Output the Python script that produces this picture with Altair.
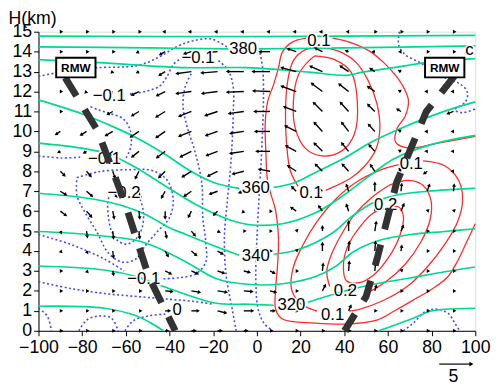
import math
import altair as alt
import pandas as pd

# ---------------- axes ----------------
X_TICKS = [-100, -80, -60, -40, -20, 0, 20, 40, 60, 80, 100]
H_TICKS = [0, 1, 2, 3, 4, 5, 6, 7, 8, 9, 10, 11, 12, 13, 14, 15]

# ---------------- wind vectors (u, w) on the grid ----------------
GRID_X = [-90, -78, -66, -54, -42, -30, -18, -6, 6, 18, 30, 42, 54, 66, 78, 90]
GRID_H = [15, 14, 13, 12, 11, 10, 9, 8, 7, 6, 5, 4, 3, 2, 1, 0]
U_ROWS = [
    [0.1, 0.1, 0.1, 0.1, -0.1, -0.2, -0.2, -0.2, -0.2, -0.2, -0.2, -0.1, 0.1, 0.1, 0.1, 0.1],
    [0.1, 0.1, 0.1, -0.2, -0.7, -1.0, -1.2, -1.3, -1.5, -1.2, -1.0, -0.3, -0.2, -0.1, 0.1, 0.1],
    [0.1, 0.1, -0.1, -0.2, -0.8, -2.2, -2.4, -2.5, -2.6, -2.2, -1.8, -1.2, -0.6, -0.2, -0.1, 0.1],
    [0.1, -0.1, -0.3, -1.0, -1.2, -2.2, -2.3, -2.5, -2.5, -2.2, -1.6, -1.4, -1.0, -0.2, -0.1, -0.1],
    [0.1, -0.2, -0.7, -1.0, -1.3, -1.8, -1.8, -2.2, -2.3, -1.8, -1.3, -1.2, -1.0, -0.5, -0.2, -0.8],
    [-0.6, -0.8, -1.0, -1.2, -1.3, -1.8, -1.7, -2.0, -2.2, -1.6, -1.2, -1.0, -0.9, -0.2, -0.1, -0.1],
    [-0.2, -0.3, -0.6, -1.0, -1.2, -1.6, -1.6, -2.0, -2.0, -1.5, -1.2, -1.0, -0.8, -0.2, -0.1, -0.1],
    [0.6, 0.6, 0.3, -0.5, -0.9, -1.3, -1.4, -1.6, -1.6, -1.2, -1.0, -0.9, -0.6, -0.2, -0.4, -0.1],
    [0.8, 0.8, 0.6, 0.2, -0.5, -1.0, -1.1, -0.6, -0.2, -0.6, -0.7, -0.3, 0.0, 0.1, 0.3, 0.1],
    [0.8, 0.7, 0.2, 0.1, 0.0, -0.4, -0.5, -0.1, 0.1, -0.7, -0.5, -0.3, 0.0, 0.4, 0.1, 0.1],
    [0.1, 0.1, 0.1, 0.1, 0.2, 0.5, 0.2, 0.1, 0.1, 0.1, 0.0, 0.0, 0.2, 0.3, 0.1, 0.1],
    [0.1, 0.1, 0.1, 0.1, 0.4, 0.7, 0.7, 0.2, 0.1, 0.1, 0.0, 0.1, 0.1, 0.1, 0.1, 0.1],
    [0.1, 0.1, 0.1, 0.3, 0.8, 0.9, 0.9, 0.8, 0.6, 0.1, 0.1, 0.1, 0.1, 0.1, 0.1, 0.1],
    [0.1, 0.1, 0.1, 0.2, 1.0, 1.2, 1.3, 1.2, 0.8, 0.1, 0.4, 0.3, 0.2, 0.1, 0.1, 0.1],
    [0.1, 0.1, 0.1, 0.2, 0.6, 1.0, 1.2, 1.3, 0.6, 0.1, 0.1, 0.3, 0.1, 0.1, 0.1, 0.1],
    [0.1, 0.1, 0.1, 0.2, 0.3, 0.5, 0.5, 0.4, 0.2, 0.1, 0.1, 0.1, 0.1, 0.1, 0.1, 0.1],
]
W_ROWS = [
    [0, 0, 0, 0, 0, 0, 0, 0, 0, 0, 0, 0, 0, 0, 0, 0],
    [0, 0, 0, -0.1, -0.4, -0.3, -0.1, 0, 0, 0.4, 0.5, 0.1, 0, 0, 0, 0],
    [0, 0, -0.1, -0.1, -0.5, -0.3, -0.2, 0, 0, 0.6, 0.8, 0.8, 0.4, 0.1, 0, 0],
    [0, -0.1, -0.2, -0.5, -0.6, -0.3, -0.3, -0.1, 0.1, 0.8, 1.2, 1.1, 0.7, 0.1, 0, 0],
    [0, -0.1, -0.4, -0.6, -0.8, -0.7, -0.6, -0.3, 0, 0.7, 1.3, 1.3, 1.0, 0.3, 0, -0.3],
    [-0.4, -0.5, -0.6, -0.8, -0.9, -0.7, -0.6, -0.3, 0, 0.8, 1.3, 1.3, 1.0, 0.1, 0, 0],
    [-0.1, -0.2, -0.5, -0.8, -0.9, -0.8, -0.6, -0.3, 0, 0.8, 1.2, 1.2, 0.9, 0.1, 0, 0],
    [-0.6, -0.7, -0.9, -1.0, -0.9, -0.8, -0.7, -0.4, 0.3, 0.8, 1.0, 1.0, 0.9, 0.3, -0.3, 0],
    [-0.5, -0.7, -0.8, -1.0, -0.9, -0.7, -0.4, -0.2, 0.1, 0.6, 0.7, 0.9, 1.2, 1.0, 0.9, 0.9],
    [-0.6, -0.8, -1.0, -1.0, -1.0, -0.8, -0.5, -0.1, 0, 0.5, 0.7, 0.9, 1.2, 1.0, 0.1, 0.1],
    [-0.2, -0.8, -1.0, -1.0, -0.9, -0.6, -0.1, 0, 0, 0.1, 0.6, 1.4, 1.3, 0.7, 0, 0],
    [-0.1, -0.2, -0.9, -0.9, -0.7, -0.6, -0.4, -0.1, 0, 0.1, 1.1, 1.3, 1.3, 0.7, 0, 0],
    [0, -0.1, -0.5, -0.4, -0.4, -0.4, -0.3, -0.2, -0.3, 0, 1.0, 1.3, 1.0, 0.1, 0, 0],
    [0, 0, 0, 0, -0.1, -0.2, -0.2, -0.1, -0.2, 0, 0.8, 0.7, 0.7, 0, 0, 0],
    [0, 0, 0, 0, 0, 0, -0.3, 0, 0, 0, 0, 0.7, 0, 0, 0, 0],
    [0, 0, 0, 0, 0, 0, 0, 0, 0, 0, 0, 0, 0, 0, 0, 0],
]
REF_VECTOR = 5
REF_POS = (83.5, -1.67)
REF_LABEL_POS = (90.0, -2.3)

# ---------------- potential temperature contours (green) ----------------
THETA_390 = [[(-100, 14.78), (0, 14.76), (100, 14.82)]]
THETA_380 = [[(-100, 14.24), (-50, 14.19), (-13.1, 14.14)],
             [(0.9, 14.14), (40.1, 14.19), (100, 14.29)]]
THETA_370 = [[(-100, 13.60), (-72.5, 13.45), (-32.4, 13.20), (-5.0, 13.20), (9.9, 13.10), (25.2, 12.96),
              (41.4, 12.81), (47.8, 12.96), (62.6, 13.20), (77.5, 13.45), (100, 13.65)]]
THETA_360 = [[(-100, 11.58), (-80.2, 10.89), (-68.0, 10.34), (-54.5, 9.65), (-42.3, 8.87), (-30.6, 8.03),
              (-19.8, 7.44), (-8.1, 7.14)],
             [(7.7, 7.19), (17.6, 7.44), (26.6, 7.93), (40.1, 8.67), (52.3, 9.46), (65.8, 10.15),
              (85.1, 10.98), (100, 11.48)]]
THETA_350 = [[(-100, 9.41), (-80.2, 9.16), (-68.0, 8.87), (-54.5, 8.13), (-42.3, 7.29), (-27.5, 6.31),
              (-12.6, 5.57), (-3.2, 5.32), (11.7, 5.37), (26.6, 5.91), (37.8, 6.65), (52.3, 7.83),
              (62.6, 8.62), (80.6, 9.36), (100, 9.80)]]
THETA_340 = [[(-100, 6.90), (-77.5, 6.65), (-62.6, 6.31), (-50.5, 5.81), (-40.1, 5.17), (-32.4, 4.83),
              (-21.2, 4.33), (-8.1, 3.79)],
             [(7.7, 3.84), (19.4, 4.09), (34.2, 4.88), (43.2, 5.71), (52.7, 6.40), (63.5, 6.80),
              (78.4, 7.00), (100, 7.14)]]
THETA_330 = [[(-100, 4.98), (-77.5, 4.83), (-55.0, 4.53), (-46.0, 4.19), (-32.4, 3.45), (-18.5, 2.61),
              (-3.2, 2.32), (11.7, 2.36), (26.6, 2.71), (35.6, 3.20), (44.6, 3.99), (55.9, 4.53),
              (70.7, 4.83), (86.0, 4.98), (100, 5.12)]]
THETA_320 = [[(-100, 3.25), (-69.8, 3.05), (-55.0, 2.71), (-42.8, 2.22), (-32.4, 1.82), (-18.5, 1.38),
              (-3.2, 1.33), (7.7, 1.28)],
             [(23.4, 1.43), (37.8, 1.92), (50.5, 2.27), (70.7, 2.66), (86.0, 2.96), (100, 3.20)]]
THETA_310 = [[(-100, 1.23), (-69.8, 1.13), (-55.0, 0.74), (-47.8, 0.34), (-42.8, 0.0)],
             [(55.9, 0.0), (70.7, 0.59), (79.7, 0.99), (86.0, 1.08), (100, 1.13)]]

# ---------------- positive contours (red) ----------------
POS_OUTER = [[(100, 9.75), (82.9, 9.41), (69.4, 9.16), (63.5, 9.46), (64.0, 10.10), (68.0, 10.79),
              (69.4, 11.53), (67.6, 12.12), (63.5, 12.81), (58.1, 13.45), (51.4, 14.04), (42.3, 14.48),
              (34.7, 14.68)],
             [(22.5, 14.68), (16.2, 14.48), (11.7, 13.99), (9.9, 13.20), (7.7, 12.36), (5.0, 11.53),
              (3.8, 10.39), (4.1, 9.01), (5.0, 7.44), (8.6, 6.01), (9.9, 4.58), (9.5, 3.35), (8.6, 2.12),
              (8.6, 1.08), (11.7, 0.59), (26.6, 0.39), (40.1, 0.34), (55.0, 0.54), (63.5, 1.03),
              (73.0, 1.63), (80.6, 2.12), (87.4, 2.71), (91.9, 3.50), (95.5, 4.33), (100, 5.37)]]
POS_UPPER_2 = [[(18.9, 7.24), (15.3, 8.03), (13.5, 9.51), (13.1, 10.98), (14.0, 12.46), (16.7, 13.55),
                (22.1, 14.09), (30.2, 14.19), (39.2, 13.94), (45.5, 13.45), (50.9, 12.56), (55.0, 11.38),
                (56.3, 10.15), (54.5, 9.11), (49.1, 8.23), (43.2, 7.68), (35.6, 7.24), (31.5, 7.04)]]
POS_UPPER_3 = [[(26.6, 13.79), (35.6, 13.60), (43.2, 12.96), (46.0, 11.48), (44.6, 9.85), (38.7, 9.01),
                (29.7, 8.77), (22.1, 9.16), (17.6, 10.15), (16.7, 11.48), (18.9, 12.81), (23.0, 13.45),
                (26.6, 13.79)]]
POS_LOWER_1 = [[(76.1, 8.52), (86.0, 8.28), (92.4, 7.54), (94.2, 6.55), (91.9, 5.47), (86.0, 4.33),
                (78.4, 3.25), (69.4, 2.27), (58.1, 1.53), (46.9, 1.08), (42.3, 0.99)],
               [(27.5, 0.99), (19.8, 1.38), (15.8, 2.12), (16.7, 3.20), (21.2, 4.33), (27.5, 5.47),
                (35.6, 6.55), (44.6, 7.39), (55.9, 8.03), (64.9, 8.33)]]
POS_LOWER_2 = [[(60.4, 7.29), (69.4, 7.54), (76.1, 7.29), (79.7, 6.55), (79.3, 5.57), (75.2, 4.48),
                (68.0, 3.35), (59.0, 2.46), (50.0, 1.87)],
               [(33.3, 2.22), (32.0, 3.00), (34.2, 3.84), (38.7, 4.83), (44.6, 5.81), (52.7, 6.70),
                (60.4, 7.29)]]
POS_LOWER_3 = [[(59.0, 6.16), (64.9, 6.21), (67.1, 5.71), (65.3, 4.73), (60.4, 3.69), (53.6, 2.81),
                (46.9, 2.41), (41.0, 2.51), (39.6, 3.20), (41.4, 4.19), (46.9, 5.17), (52.7, 5.86),
                (59.0, 6.16)]]

# ---------------- negative contours (blue, dotted) ----------------
NEG_TOP = [[(-100, 12.76), (-90.6, 12.96), (-81.5, 13.10), (-72.5, 13.20), (-55.0, 13.30), (-44.6, 13.74),
            (-36.9, 14.24), (-29.7, 14.53), (-20.7, 14.63), (-13.1, 14.19)],
           [(1.4, 13.94), (2.7, 13.10), (3.0, 11.48), (2.5, 9.85), (1.8, 8.18), (0.9, 6.55), (0.0, 4.58),
            (-0.5, 2.61), (0.5, 1.13), (3.2, 0.39), (7.2, 0.0)]]
NEG_MID = [[(-58.1, 11.87), (-50.5, 12.02), (-44.6, 12.27), (-41.4, 12.71), (-38.3, 13.35), (-35.6, 13.60)],
           [(-17.6, 13.55), (-13.1, 13.05), (-10.8, 12.22), (-10.8, 10.98), (-11.3, 9.51), (-12.2, 8.03),
            (-13.5, 6.55), (-14.9, 4.58), (-14.0, 2.71), (-11.3, 1.08), (-9.5, 0.0)]]
NEG_LEFT = [[(-100, 8.77), (-89.6, 8.67), (-79.7, 8.72)],
            [(-59.9, 8.67), (-57.7, 9.26), (-58.1, 10.10), (-61.3, 10.64), (-67.1, 10.89), (-72.5, 11.08),
             (-77.0, 11.28)]]
NEG_LOOP = [[(-82.4, 7.68), (-72.5, 7.98), (-59.0, 8.08), (-47.8, 8.03), (-41.0, 7.54), (-38.3, 6.55),
             (-40.1, 5.66), (-45.5, 4.98), (-50.9, 4.30), (-55.4, 3.60), (-61.7, 3.45), (-68.0, 3.90),
             (-73.4, 4.98), (-78.8, 5.96), (-82.4, 6.80), (-82.4, 7.68)]]
NEG_CORE = [[(-53.5, 6.6), (-52.0, 6.0), (-52.5, 5.2), (-55.5, 4.6), (-59.5, 4.35), (-63.5, 4.5),
             (-66.5, 5.0), (-68.0, 5.7), (-68.3, 6.4), (-67.8, 6.7)]]
NEG_LOW = [[(-100, 4.83), (-85.1, 4.33), (-69.8, 3.60), (-60.8, 3.00)],
           [(-42.8, 2.61), (-35.6, 2.66), (-27.9, 2.86), (-23.4, 3.45), (-23.4, 4.43), (-24.8, 5.71),
            (-25.2, 7.39), (-28.4, 9.01), (-32.0, 10.25), (-33.8, 11.23), (-32.9, 12.22), (-29.7, 12.96)]]
NEG_BASE = [[(-100, 2.46), (-85.1, 2.12), (-69.8, 1.87), (-55.0, 1.72), (-40.1, 1.58), (-29.3, 1.48),
             (-20.0, 1.33)]]
NEG_ARCH = [[(-81.5, 0), (-77.9, 0.54), (-72.5, 0.74), (-66.7, 0.64), (-63.5, 0)]]
NEG_CORNER = [[(-100, 1.13), (-96.0, 0.74), (-94.1, 0.0)]]
NEG_ZERO = [[(-60.4, 0), (-56.8, 0.49), (-50.0, 0.74), (-41.9, 0.84)]]
NEG_TOPRIGHT = [[(65.3, 15.0), (64.9, 14.33), (68.0, 13.84), (73.9, 13.50), (78.4, 13.20), (86.0, 12.7),
                 (93.3, 12.36), (96.4, 11.97), (95.5, 11.48), (90.6, 11.08), (94.2, 10.94), (100, 11.13)]]
NEG_BOTRIGHT = [[(67.1, 0), (71.6, 0.39), (77.5, 0.99), (82.9, 1.08), (87.4, 0.89), (90.6, 0.39), (92.8, 0)]]

# ---------------- contour labels ----------------
LABEL_TEXT = ["380", "360", "340", "320",
              "0.1", "0.1", "0.1", "0.2", "0.2", "0.1",
              "\u22120.1", "\u22120.1", "\u22120.1", "\u22120.2", "\u22120.1", "0", "c"]
LABEL_X = [-6.3, -0.5, -0.5, 15.8,
           28.4, 24.8, 70.7, 59.0, 40.5, 34.7,
           -27.0, -67.6, -69.8, -60.8, -51.8, -36.5, 97.3]
LABEL_H = [14.14, 7.14, 3.74, 1.28,
           14.53, 6.90, 8.37, 6.31, 1.97, 0.79,
           13.69, 11.77, 8.62, 6.90, 2.61, 1.03, 14.1]

# ---------------- RMW tracks ----------------
RMW_LEFT = [(-87.8, 12.7), (-73.0, 10.05), (-60.4, 6.4), (-49.5, 2.71), (-37.4, 0.0)]
RMW_RIGHT = [(90.6, 12.8), (77.5, 10.98), (64.0, 7.44), (55.0, 3.6), (50.0, 1.72), (40.1, 0.0)]
RMW_BOX_X = [-91.9, 77.0]
RMW_BOX_X2 = [-73.9, 95.0]
RMW_BOX_H = [12.71, 12.71]
RMW_BOX_H2 = [13.69, 13.69]

# ---------------- build tables ----------------
PLOT_W = 444
PLOT_H = 304
PX_X = PLOT_W / 200.0
PX_H = PLOT_H / 15.0
PX_PER_MS = 32 / REF_VECTOR

GREEN = "#00d98e"
RED = "#ff2a2a"
BLUE = "#3f4bff"


def line_table(groups):
    rows = []
    for name, segs in groups:
        for s, seg in enumerate(segs):
            for i, (x, h) in enumerate(seg):
                rows.append({"line": f"{name}_{s}", "x": x, "h": h, "i": i})
    return pd.DataFrame(rows)


green_df = line_table([("t390", THETA_390), ("t380", THETA_380), ("t370", THETA_370), ("t360", THETA_360),
                       ("t350", THETA_350), ("t340", THETA_340), ("t330", THETA_330), ("t320", THETA_320),
                       ("t310", THETA_310)])
red_df = line_table([("po", POS_OUTER), ("pu2", POS_UPPER_2), ("pu3", POS_UPPER_3), ("pl1", POS_LOWER_1),
                     ("pl2", POS_LOWER_2), ("pl3", POS_LOWER_3)])
blue_df = line_table([("nt", NEG_TOP), ("nm", NEG_MID), ("nl", NEG_LEFT), ("nlp", NEG_LOOP),
                      ("nc", NEG_CORE), ("nlo", NEG_LOW), ("nb", NEG_BASE), ("na", NEG_ARCH),
                      ("nco", NEG_CORNER), ("nz", NEG_ZERO), ("ntr", NEG_TOPRIGHT), ("nbr", NEG_BOTRIGHT)])
rmw_df = line_table([("rl", [RMW_LEFT]), ("rr", [RMW_RIGHT])])

vec_rows = []
for r, h in enumerate(GRID_H):
    for c, x in enumerate(GRID_X):
        u = U_ROWS[r][c]
        w = W_ROWS[r][c]
        dxp = u * PX_PER_MS
        dyp = w * PX_PER_MS
        vec_rows.append({"x": x, "h": h, "x2": x + dxp / PX_X, "h2": h + dyp / PX_H,
                         "ang": math.degrees(math.atan2(dxp, dyp)) % 360})
vec_df = pd.DataFrame(vec_rows)

ref_df = pd.DataFrame([{"x": REF_POS[0], "h": REF_POS[1],
                        "x2": REF_POS[0] + REF_VECTOR * PX_PER_MS / PX_X, "h2": REF_POS[1], "ang": 90.0}])
ref_txt = pd.DataFrame([{"x": REF_LABEL_POS[0], "h": REF_LABEL_POS[1], "t": str(REF_VECTOR)}])

lab_df = pd.DataFrame({"x": LABEL_X, "h": LABEL_H, "t": LABEL_TEXT})
box_df = pd.DataFrame({"x": RMW_BOX_X, "x2": RMW_BOX_X2, "h": RMW_BOX_H, "h2": RMW_BOX_H2})
box_df["xc"] = (box_df["x"] + box_df["x2"]) / 2
box_df["hc"] = (box_df["h"] + box_df["h2"]) / 2
box_df["t"] = "RMW"

FONT = "Liberation Sans"
xs = alt.Scale(domain=[-100, 100], nice=False, zero=False)
ys = alt.Scale(domain=[0, 15], nice=False, zero=False)

x_axis = alt.Axis(values=X_TICKS, format="d", title=None, labelFontSize=18, labelFont=FONT,
                  labelColor="black", tickColor="black", domainColor="black", tickSize=5,
                  labelPadding=3, labelFlush=False, labelOverlap=False, grid=False)
y_axis = alt.Axis(values=H_TICKS, format="d", title="H(km)", labelFontSize=18, labelFont=FONT,
                  labelColor="black", tickColor="black", domainColor="black", tickSize=5,
                  labelPadding=2, labelFlush=False, labelOverlap=False, grid=False,
                  titleAngle=0, titleAlign="left", titleBaseline="alphabetic", titleX=-31, titleY=-8,
                  titleFontSize=18, titleFont=FONT, titleFontWeight="normal", titleColor="black")


def X(field):
    return alt.X(field, type="quantitative", scale=xs, axis=x_axis)


def Y(field):
    return alt.Y(field, type="quantitative", scale=ys, axis=y_axis)


def lines(df, color, width, dash=None, interp="catmull-rom"):
    kw = dict(color=color, strokeWidth=width, interpolate=interp)
    if dash is not None:
        kw["strokeDash"] = dash
    return alt.Chart(df).mark_line(**kw).encode(
        x=X("x"), y=Y("h"), detail="line:N", order="i:Q",
    )


blue_layer = lines(blue_df, BLUE, 1.6, dash=[2, 2.5])
red_layer = lines(red_df, RED, 1.3)
green_layer = lines(green_df, GREEN, 1.7)

shafts = alt.Chart(vec_df).mark_rule(color="black", strokeWidth=1.4).encode(
    x=X("x"), x2="x2:Q", y=Y("h"), y2="h2:Q")
heads = alt.Chart(vec_df).mark_point(shape="triangle", filled=True, size=16, color="black",
                                     opacity=1).encode(
    x=X("x2"), y=Y("h2"), angle=alt.Angle("ang:Q", scale=None))

ref_shaft = alt.Chart(ref_df).mark_rule(color="black", strokeWidth=1.2).encode(
    x=X("x"), x2="x2:Q", y=Y("h"), y2="h2:Q")
ref_head = alt.Chart(ref_df).mark_point(shape="triangle", filled=True, size=22, color="black",
                                        opacity=1).encode(
    x=X("x2"), y=Y("h2"), angle=alt.Angle("ang:Q", scale=None))
ref_label = alt.Chart(ref_txt).mark_text(fontSize=18, font=FONT, color="black", baseline="middle").encode(
    x=X("x"), y=Y("h"), text="t:N")

halo = alt.Chart(lab_df).mark_text(fontSize=17, font=FONT, color="white", stroke="white", strokeWidth=3,
                                   baseline="middle", align="center").encode(x=X("x"), y=Y("h"), text="t:N")
labels = alt.Chart(lab_df).mark_text(fontSize=17, font=FONT, color="black", baseline="middle",
                                     align="center").encode(x=X("x"), y=Y("h"), text="t:N")

rmw = alt.Chart(rmw_df).mark_line(color="#333333", strokeWidth=7, strokeDash=[22, 16],
                                  strokeCap="butt").encode(x=X("x"), y=Y("h"), detail="line:N", order="i:Q")
boxes = alt.Chart(box_df).mark_rect(fill="white", stroke="black", strokeWidth=2).encode(
    x=X("x"), x2="x2:Q", y=Y("h"), y2="h2:Q")
box_text = alt.Chart(box_df).mark_text(fontSize=12, font=FONT, fontWeight="bold", color="black",
                                       baseline="middle").encode(x=X("xc"), y=Y("hc"), text="t:N")

chart = alt.layer(
    blue_layer, red_layer, green_layer, shafts, heads, halo, labels, rmw, boxes, box_text,
    ref_shaft, ref_head, ref_label,
).properties(
    width=PLOT_W, height=PLOT_H, autosize="none",
    padding={"left": 31, "top": 21, "right": 18, "bottom": 53},
).configure_view(stroke="#808080", strokeWidth=1).configure(background="white")

chart.save("out.html", embed_options={"renderer": "svg", "actions": False})
